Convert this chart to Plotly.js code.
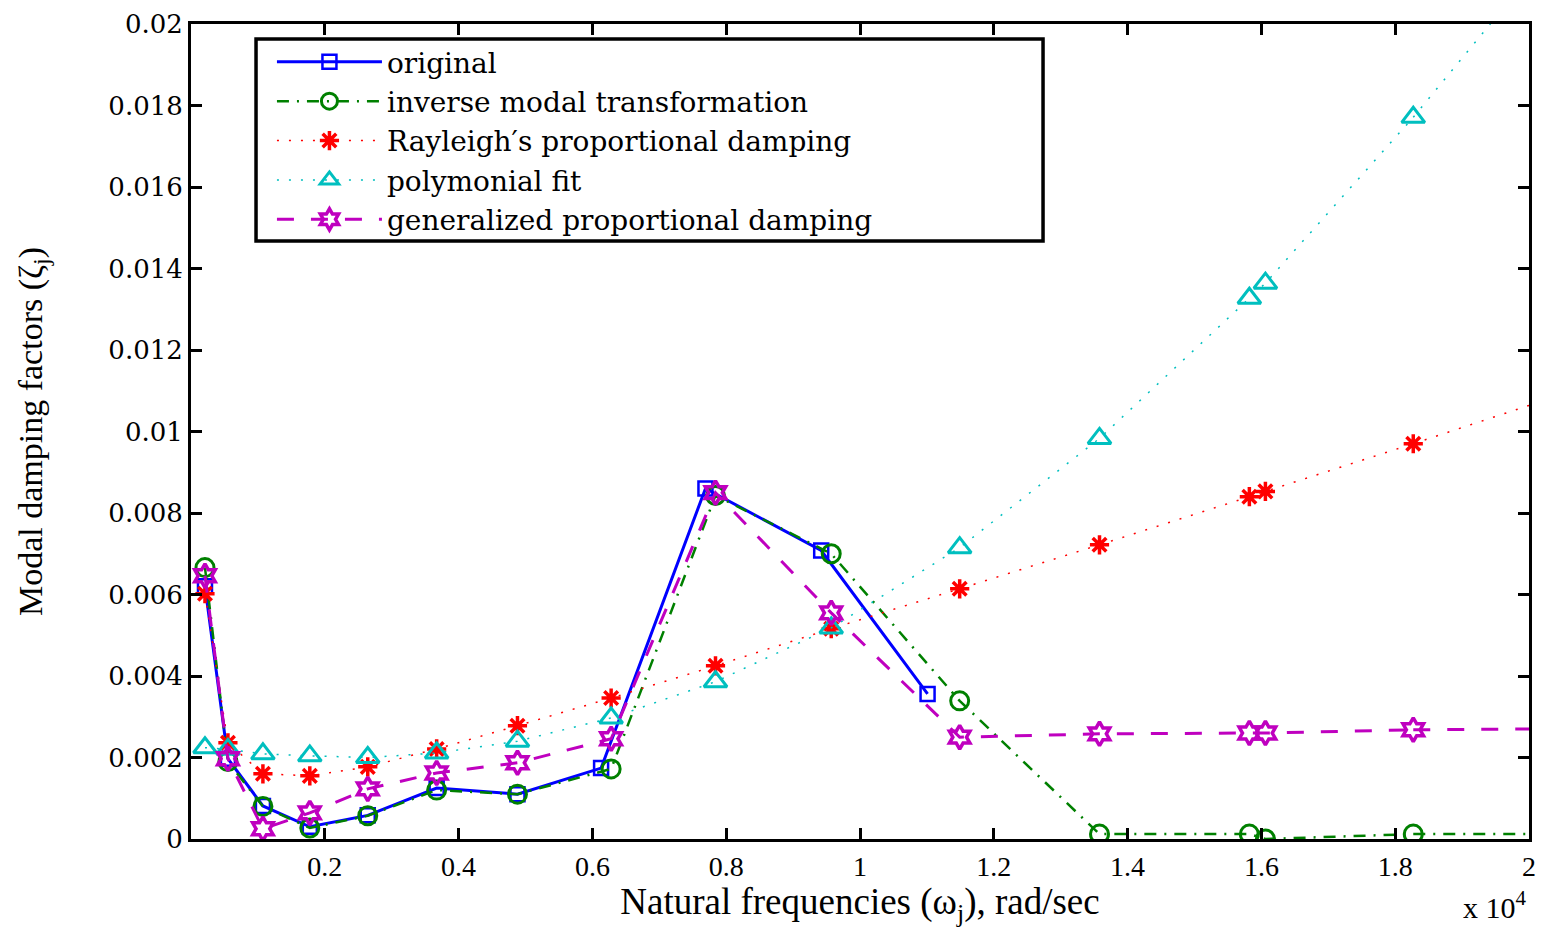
<!DOCTYPE html>
<html>
<head>
<meta charset="utf-8">
<script src="https://cdn.plot.ly/plotly-3.0.1.min.js"></script>
<style>html,body{margin:0;padding:0;background:#fff;}#chart{width:1543px;height:928px;}</style>
</head>
<body>
<div id="chart"></div>
<script>
// Natural frequencies (rad/sec)
const freqOriginal = [209, 552, 1075, 1776, 2642, 3672, 4880, 6130, 7690, 9420, 11010];
const freqIdentified = [209, 552, 1075, 1776, 2642, 3672, 4880, 6280, 7840, 9570, 11490, 13580, 15820, 16060, 18270];

// Modal damping factors
const zetaOriginal = [0.0062, 0.00197, 0.00081, 0.0003, 0.00058, 0.00125, 0.0011, 0.00174, 0.0086, 0.00708, 0.00356];
const zetaInverse = [0.00666, 0.0019, 0.0008, 0.00027, 0.00057, 0.0012, 0.0011, 0.00172, 0.00843, 0.0070, 0.00339, 0.00012, 0.00012, 0.0, 0.00012];
const zetaRayleigh = [0.00602, 0.00236, 0.0016, 0.00155, 0.00177, 0.00221, 0.00278, 0.00346, 0.00425, 0.00516, 0.00614, 0.00722, 0.0084, 0.00853, 0.0097];
const zetaPoly = [0.00224, 0.0022, 0.00209, 0.00204, 0.0020, 0.00211, 0.0024, 0.00297, 0.00386, 0.00518, 0.00715, 0.00983, 0.01327, 0.01364, 0.01771];
const zetaGeneral = [0.00646, 0.00197, 0.00025, 0.00064, 0.00123, 0.00162, 0.00187, 0.00246, 0.0085, 0.00555, 0.0025, 0.00258, 0.0026, 0.0026, 0.00268];

// Continuation of the fitted curves beyond the last identified mode
const tailFreqInverse = [18270, 20000];
const tailInverse = [0.00012, 0.00012];
const tailFreqRayleigh = [18270, 20000];
const tailRayleigh = [0.0097, 0.01064];
const tailFreqPoly = [18270, 19420, 20000];
const tailPoly = [0.01771, 0.02, 0.0213];
const tailFreqGeneral = [18270, 20000];
const tailGeneral = [0.00268, 0.0027];

const seriesNames = ["original", "inverse modal transformation", "Rayleigh\u2032s proportional damping", "polymonial fit", "generalized proportional damping"];

const xTickVals = [2000, 4000, 6000, 8000, 10000, 12000, 14000, 16000, 18000, 20000];
const xTickText = ["0.2", "0.4", "0.6", "0.8", "1", "1.2", "1.4", "1.6", "1.8", "2"];
const yTickVals = [0, 0.002, 0.004, 0.006, 0.008, 0.01, 0.012, 0.014, 0.016, 0.018, 0.02];
const yTickText = ["0", "0.002", "0.004", "0.006", "0.008", "0.01", "0.012", "0.014", "0.016", "0.018", "0.02"];

const cBlue = "#0000ff", cGreen = "#008000", cRed = "#ff0000", cCyan = "#00bfbf", cMag = "#bf00bf";

const traces = [
  {x: freqOriginal, y: zetaOriginal, name: seriesNames[0], legendgroup: "g1", mode: "lines+markers",
   line: {color: cBlue, width: 3}, marker: {symbol: "square-open", size: 14, color: cBlue, line: {width: 2.5, color: cBlue}}},
  {x: freqIdentified, y: zetaInverse, name: seriesNames[1], legendgroup: "g2", mode: "lines+markers",
   line: {color: cGreen, width: 2.5, dash: "12px,8px,2px,8px"}, marker: {symbol: "circle-open", size: 18, color: cGreen, line: {width: 3, color: cGreen}}},
  {x: tailFreqInverse, y: tailInverse, legendgroup: "g2", showlegend: false, mode: "lines", hoverinfo: "skip",
   line: {color: cGreen, width: 2.5, dash: "12px,8px,2px,8px"}},
  {x: freqIdentified, y: zetaRayleigh, name: seriesNames[2], legendgroup: "g3", mode: "lines+markers",
   line: {color: cRed, width: 1.5, dash: "2px,10px"}, marker: {symbol: "asterisk-open", size: 16, color: cRed, line: {width: 3.5, color: cRed}}},
  {x: tailFreqRayleigh, y: tailRayleigh, legendgroup: "g3", showlegend: false, mode: "lines", hoverinfo: "skip",
   line: {color: cRed, width: 1.5, dash: "2px,10px"}},
  {x: freqIdentified, y: zetaPoly, name: seriesNames[3], legendgroup: "g4", mode: "lines+markers",
   line: {color: cCyan, width: 1.5, dash: "2px,10px"}, marker: {symbol: "triangle-up-open", size: 20, color: cCyan, line: {width: 3, color: cCyan}}},
  {x: tailFreqPoly, y: tailPoly, legendgroup: "g4", showlegend: false, mode: "lines", hoverinfo: "skip",
   line: {color: cCyan, width: 1.5, dash: "2px,10px"}},
  {x: freqIdentified, y: zetaGeneral, name: seriesNames[4], legendgroup: "g5", mode: "lines+markers",
   line: {color: cMag, width: 3, dash: "17px,17px"}, marker: {symbol: "hexagram-open", size: 18, color: cMag, line: {width: 3.5, color: cMag}}},
  {x: tailFreqGeneral, y: tailGeneral, legendgroup: "g5", showlegend: false, mode: "lines", hoverinfo: "skip",
   line: {color: cMag, width: 3, dash: "17px,17px"}}
];

const layout = {
  width: 1543, height: 928,
  margin: {l: 191, r: 14, t: 24, b: 89},
  paper_bgcolor: "#fff", plot_bgcolor: "#fff",
  showlegend: true,
  xaxis: {
    range: [0, 20000], tickvals: xTickVals, ticktext: xTickText,
    ticks: "inside", ticklen: 11, tickwidth: 3, tickcolor: "#000",
    showline: true, linewidth: 3, linecolor: "#000", mirror: "ticks",
    showgrid: false, zeroline: false,
    tickfont: {family: "Liberation Serif", size: 28, color: "#000"},
    title: {text: "Natural frequencies (\u03c9<sub>j</sub>), rad/sec", font: {family: "Liberation Serif", size: 37, color: "#000"}, standoff: 0}
  },
  yaxis: {
    range: [0, 0.02], tickvals: yTickVals, ticktext: yTickText,
    ticks: "inside", ticklen: 11, tickwidth: 3, tickcolor: "#000",
    showline: true, linewidth: 3, linecolor: "#000", mirror: "ticks",
    showgrid: false, zeroline: false,
    tickfont: {family: "DejaVu Serif", size: 26, color: "#000"},
    title: {text: "Modal damping factors (\u03b6<sub>j</sub>)", font: {family: "Liberation Serif", size: 34, color: "#000"}, standoff: 56}
  },
  legend: {
    x: 0.0605, y: 0.984, xanchor: "left", yanchor: "top",
    bgcolor: "rgba(0,0,0,0)", borderwidth: 0,
    traceorder: "grouped", tracegroupgap: 0, itemwidth: 105,
    font: {family: "DejaVu Serif", size: 28, color: "#000"}
  },
  shapes: [
    {type: "rect", xref: "paper", yref: "paper", x0: 0.0486, x1: 0.6368, y0: 0.7337, y1: 0.9816,
     line: {color: "#000", width: 3.5}, fillcolor: "#fff", layer: "below"}
  ],
  annotations: [
    {xref: "paper", yref: "paper", x: 1.0, y: -0.055, xanchor: "right", yanchor: "top", showarrow: false,
     text: "x 10<sup>4</sup>", font: {family: "Liberation Serif", size: 30, color: "#000"}}
  ]
};

Plotly.newPlot("chart", traces, layout, {displayModeBar: false, staticPlot: true});
</script>
</body>
</html>
